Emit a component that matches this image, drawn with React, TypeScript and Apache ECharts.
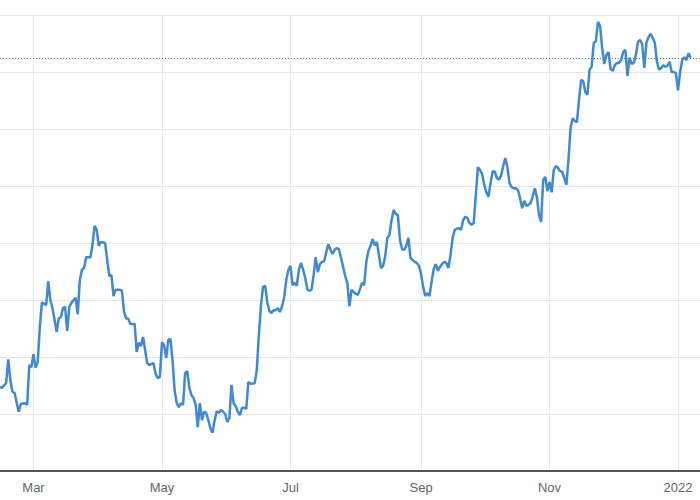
import React, { useEffect, useRef } from "react";
import * as echarts from "echarts";

const dates: string[] = [
  "2021-02-13","2021-02-14","2021-02-16","2021-02-17","2021-02-18","2021-02-19","2021-02-20","2021-02-22","2021-02-23","2021-02-25",
  "2021-02-26","2021-02-27","2021-02-28","2021-03-01","2021-03-02","2021-03-03","2021-03-04","2021-03-05","2021-03-07","2021-03-08",
  "2021-03-09","2021-03-10","2021-03-12","2021-03-13","2021-03-14","2021-03-15","2021-03-16","2021-03-17","2021-03-18","2021-03-19",
  "2021-03-21","2021-03-22","2021-03-23","2021-03-24","2021-03-25","2021-03-26","2021-03-28","2021-03-29","2021-03-30","2021-03-31",
  "2021-04-01","2021-04-02","2021-04-04","2021-04-05","2021-04-06","2021-04-07","2021-04-08","2021-04-09","2021-04-11","2021-04-12",
  "2021-04-13","2021-04-14","2021-04-15","2021-04-16","2021-04-18","2021-04-19","2021-04-20","2021-04-21","2021-04-22","2021-04-24",
  "2021-04-25","2021-04-26","2021-04-27","2021-04-28","2021-04-29","2021-04-30","2021-05-01","2021-05-02","2021-05-03","2021-05-04",
  "2021-05-05","2021-05-06","2021-05-07","2021-05-08","2021-05-09","2021-05-10","2021-05-11","2021-05-12","2021-05-13","2021-05-14",
  "2021-05-15","2021-05-16","2021-05-17","2021-05-18","2021-05-19","2021-05-20","2021-05-21","2021-05-22","2021-05-23","2021-05-24",
  "2021-05-25","2021-05-26","2021-05-27","2021-05-28","2021-05-29","2021-05-30","2021-05-31","2021-06-01","2021-06-02","2021-06-03",
  "2021-06-04","2021-06-05","2021-06-06","2021-06-07","2021-06-08","2021-06-09","2021-06-10","2021-06-11","2021-06-12","2021-06-14",
  "2021-06-15","2021-06-16","2021-06-17","2021-06-18","2021-06-19","2021-06-20","2021-06-21","2021-06-22","2021-06-23","2021-06-24",
  "2021-06-25","2021-06-26","2021-06-27","2021-06-28","2021-06-29","2021-06-30","2021-07-01","2021-07-02","2021-07-03","2021-07-04",
  "2021-07-05","2021-07-06","2021-07-07","2021-07-08","2021-07-09","2021-07-10","2021-07-11","2021-07-12","2021-07-13","2021-07-14",
  "2021-07-15","2021-07-16","2021-07-17","2021-07-18","2021-07-19","2021-07-20","2021-07-21","2021-07-22","2021-07-23","2021-07-24",
  "2021-07-25","2021-07-26","2021-07-27","2021-07-28","2021-07-29","2021-07-30","2021-07-31","2021-08-01","2021-08-02","2021-08-03",
  "2021-08-04","2021-08-05","2021-08-06","2021-08-07","2021-08-08","2021-08-09","2021-08-10","2021-08-11","2021-08-12","2021-08-13",
  "2021-08-14","2021-08-15","2021-08-16","2021-08-17","2021-08-18","2021-08-19","2021-08-20","2021-08-21","2021-08-22","2021-08-23",
  "2021-08-24","2021-08-25","2021-08-26","2021-08-27","2021-08-28","2021-08-29","2021-08-30","2021-08-31","2021-09-01","2021-09-02",
  "2021-09-03","2021-09-04","2021-09-05","2021-09-06","2021-09-07","2021-09-08","2021-09-09","2021-09-10","2021-09-11","2021-09-12",
  "2021-09-13","2021-09-14","2021-09-15","2021-09-16","2021-09-17","2021-09-18","2021-09-19","2021-09-20","2021-09-21","2021-09-22",
  "2021-09-23","2021-09-24","2021-09-25","2021-09-26","2021-09-27","2021-09-28","2021-09-29","2021-09-30","2021-10-01","2021-10-02",
  "2021-10-03","2021-10-04","2021-10-05","2021-10-06","2021-10-07","2021-10-08","2021-10-09","2021-10-10","2021-10-11","2021-10-12",
  "2021-10-13","2021-10-14","2021-10-15","2021-10-16","2021-10-17","2021-10-18","2021-10-19","2021-10-20","2021-10-21","2021-10-22",
  "2021-10-23","2021-10-24","2021-10-25","2021-10-26","2021-10-27","2021-10-28","2021-10-29","2021-10-30","2021-10-31","2021-11-01",
  "2021-11-02","2021-11-03","2021-11-04","2021-11-05","2021-11-06","2021-11-07","2021-11-08","2021-11-09","2021-11-10","2021-11-11",
  "2021-11-12","2021-11-13","2021-11-14","2021-11-15","2021-11-16","2021-11-17","2021-11-18","2021-11-19","2021-11-20","2021-11-21",
  "2021-11-22","2021-11-23","2021-11-24","2021-11-25","2021-11-26","2021-11-27","2021-11-28","2021-11-29","2021-11-30","2021-12-01",
  "2021-12-02","2021-12-03","2021-12-04","2021-12-05","2021-12-06","2021-12-07","2021-12-08","2021-12-09","2021-12-10","2021-12-11",
  "2021-12-12","2021-12-13","2021-12-14","2021-12-15","2021-12-16","2021-12-17","2021-12-18","2021-12-19","2021-12-20","2021-12-21",
  "2021-12-22","2021-12-23","2021-12-24","2021-12-25","2021-12-26","2021-12-27","2021-12-28","2021-12-29","2021-12-30","2021-12-31",
  "2022-01-01","2022-01-02","2022-01-03","2022-01-04","2022-01-05","2022-01-06","2022-01-07"
];

const values: number[] = [
  114.7,114.6,115.4,119.6,116.0,113.9,113.7,110.4,111.8,111.9,
  111.6,118.6,118.2,120.5,118.1,119.1,125.3,129.6,129.1,133.3,
  130.0,128.6,124.4,126.8,127.0,128.6,128.8,124.6,128.8,129.5,
  130.4,127.5,133.5,135.3,135.6,137.5,137.5,139.6,143.0,142.3,
  139.5,140.2,140.0,137.0,134.2,134.4,130.7,131.8,131.8,131.6,
  127.9,126.8,126.7,125.8,125.8,120.9,122.5,121.9,123.5,118.9,
  118.6,118.8,118.9,117.0,116.3,116.5,122.6,122.1,119.8,123.0,
  123.2,119.5,114.2,111.9,111.2,111.9,111.6,117.2,117.5,114.6,
  113.3,112.8,111.6,107.7,111.9,108.9,110.4,110.2,108.9,107.5,
  106.7,108.9,110.5,110.2,110.7,110.4,110.0,108.6,109.3,115.1,
  111.9,111.4,110.4,109.8,111.1,111.1,110.9,115.6,115.3,115.4,
  117.7,123.9,129.1,132.3,132.5,129.6,128.1,127.7,128.2,128.2,
  128.6,127.9,128.9,130.4,133.5,135.3,136.0,132.6,133.0,132.5,
  135.3,136.5,135.3,133.9,131.9,131.6,131.8,134.4,137.5,134.9,
  136.3,136.7,136.8,138.4,139.8,138.8,138.1,138.8,139.1,138.9,
  137.4,135.8,134.2,133.0,128.9,131.8,131.4,131.1,130.9,131.9,
  133.0,132.6,136.7,138.6,139.5,140.7,139.6,140.2,137.9,135.6,
  136.0,137.7,140.9,141.4,144.0,145.8,145.1,144.9,140.5,138.9,
  138.8,139.5,140.9,137.4,137.0,136.7,136.5,136.0,134.6,132.3,
  130.7,131.2,130.7,133.2,135.4,136.3,135.1,135.8,136.3,136.7,
  136.5,135.6,137.9,140.9,142.3,142.5,142.6,142.3,144.0,144.6,
  144.4,143.5,143.2,143.5,148.4,153.3,152.8,152.1,150.2,148.9,
  148.1,150.5,152.6,152.5,151.4,151.1,151.8,153.5,154.9,153.3,
  150.5,149.8,149.6,149.6,149.3,147.9,146.1,147.4,146.5,146.7,
  147.0,148.2,149.6,148.1,144.9,143.7,151.1,151.6,149.1,150.7,
  148.9,152.8,153.5,153.2,152.6,152.5,151.4,150.2,154.6,160.2,
  161.9,161.4,161.2,165.1,168.6,168.4,166.5,166.0,170.4,170.9,
  175.1,175.4,178.8,178.1,174.2,171.4,173.0,173.5,170.5,170.2,
  171.2,171.6,171.6,172.1,173.5,173.9,169.3,172.5,171.4,171.6,
  173.0,175.3,175.6,174.9,170.7,175.1,176.1,176.7,176.0,175.1,
  171.8,170.4,170.7,171.2,170.9,171.1,171.8,170.0,170.0,169.8,
  166.8,170.0,172.1,172.6,172.1,173.3,172.5
];

const tickDates: string[] = ["2021-03-01", "2021-05-01", "2021-07-01", "2021-09-01", "2021-11-01", "2022-01-01"];
const tickLabels: string[] = ["Mar", "May", "Jul", "Sep", "Nov", "2022"];

const xMin = "2021-02-13T02:17:00";
const xMax = "2022-01-11T10:40:00";
const yMin = 100;
const yMax = 180;
const yInterval = 10;

const toTs = (s: string) => new Date(s.length === 10 ? s + "T00:00:00" : s).getTime();

export default function App() {
  const ref = useRef<HTMLDivElement>(null);
  useEffect(() => {
    if (!ref.current) return;
    const chart = echarts.init(ref.current, null, { renderer: "svg" });
    const tickTs = tickDates.map(toTs);
    const lastValue = values[values.length - 1];
    chart.setOption({
      animation: false,
      grid: { left: 0, right: 0, top: 15, bottom: 29, containLabel: false },
      xAxis: {
        type: "value",
        min: toTs(xMin),
        max: toTs(xMax),
        axisLine: { show: true, onZero: false, lineStyle: { color: "#555555", width: 2 } },
        axisTick: { show: false, customValues: tickTs },
        axisLabel: {
          customValues: tickTs,
          color: "#666666",
          fontSize: 13,
          fontFamily: "Arial, 'Liberation Sans', sans-serif",
          margin: 10,
          formatter: (v: number) => {
            const i = tickTs.indexOf(v);
            return i >= 0 ? tickLabels[i] : "";
          },
        },
        splitLine: { show: true, lineStyle: { color: "#ebebeb", width: 1 } },
      },
      yAxis: {
        type: "value",
        min: yMin,
        max: yMax,
        interval: yInterval,
        axisLine: { show: false },
        axisTick: { show: false },
        axisLabel: { show: false },
        splitLine: { show: true, lineStyle: { color: "#e6e6e6", width: 1 } },
      },
      series: [
        {
          type: "line",
          data: dates.map((d, i) => [toTs(d), values[i]]),
          showSymbol: false,
          symbol: "none",
          clip: false,
          lineStyle: { color: "#4189d0", width: 2.5 },
          itemStyle: { color: "#4189d0" },
          markLine: {
            silent: true,
            symbol: "none",
            label: { show: false },
            lineStyle: { color: "#3d85c6", width: 1, type: [1, 2] },
            data: [{ yAxis: lastValue }],
          },
        },
      ],
    });
    return () => chart.dispose();
  }, []);
  return <div ref={ref} style={{ position: "absolute", left: 0, top: 0, width: 700, height: 500 }} />;
}
